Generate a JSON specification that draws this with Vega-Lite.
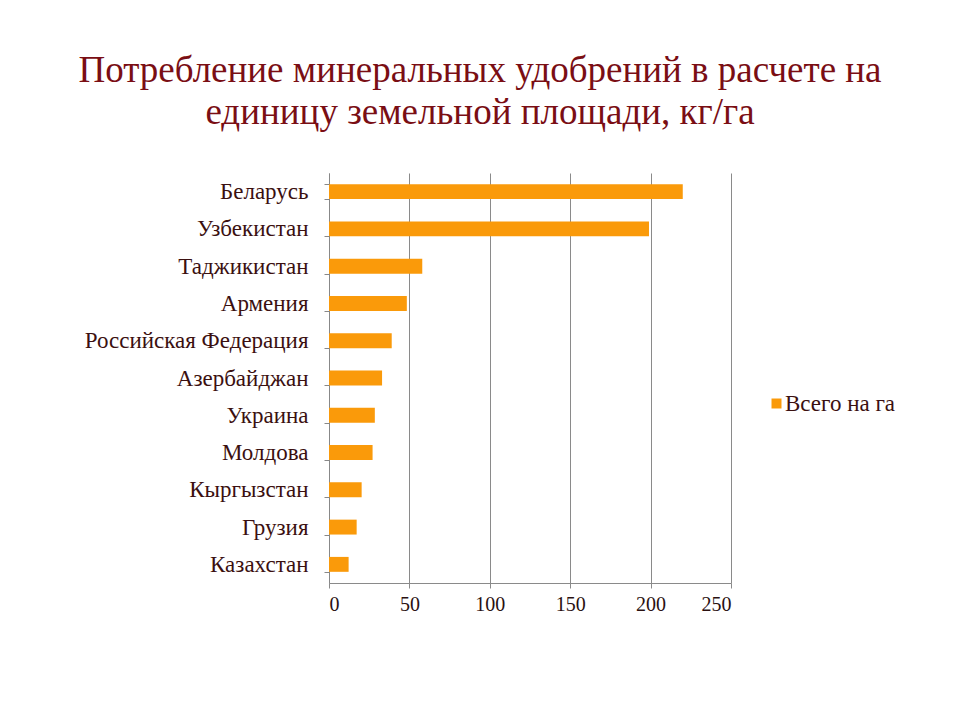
{
  "$schema": "https://vega.github.io/schema/vega-lite/v6.json",
  "autosize": "none",
  "width": 402,
  "height": 410,
  "padding": {"left": 329, "top": 173, "right": 229, "bottom": 137},
  "background": "white",
  "config": {"view": {"stroke": null}, "font": "Liberation Serif"},
  "title": {
    "text": ["Потребление минеральных удобрений в расчете на", "единицу земельной площади, кг/га"],
    "anchor": "middle",
    "frame": "group",
    "dx": -50,
    "offset": 30,
    "font": "Liberation Serif",
    "fontSize": 37,
    "fontWeight": "normal",
    "color": "#7a0e14",
    "lineHeight": 42
  },
  "data": {
    "values": [
      {"country": "Беларусь", "value": 220, "series": "Всего на га"},
      {"country": "Узбекистан", "value": 199, "series": "Всего на га"},
      {"country": "Таджикистан", "value": 58, "series": "Всего на га"},
      {"country": "Армения", "value": 48.4, "series": "Всего на га"},
      {"country": "Российская Федерация", "value": 39, "series": "Всего на га"},
      {"country": "Азербайджан", "value": 33, "series": "Всего на га"},
      {"country": "Украина", "value": 28.5, "series": "Всего на га"},
      {"country": "Молдова", "value": 27.1, "series": "Всего на га"},
      {"country": "Кыргызстан", "value": 20.3, "series": "Всего на га"},
      {"country": "Грузия", "value": 17.2, "series": "Всего на га"},
      {"country": "Казахстан", "value": 12.2, "series": "Всего на га"}
    ]
  },
  "mark": {"type": "bar"},
  "encoding": {
    "y": {
      "field": "country",
      "type": "nominal",
      "sort": null,
      "scale": {"paddingInner": 0.6, "paddingOuter": 0.3},
      "axis": {
        "title": null,
        "ticks": true,
        "tickBand": "extent",
        "tickSize": 5,
        "tickColor": "#888888",
        "domain": true,
        "domainColor": "#888888",
        "labelFont": "Liberation Serif",
        "labelFontSize": 23,
        "labelColor": "#3b1010",
        "labelPadding": 16,
        "labelLimit": 400,
        "grid": false
      }
    },
    "x": {
      "field": "value",
      "type": "quantitative",
      "scale": {"domain": [0, 250], "nice": false},
      "axis": {
        "title": null,
        "values": [0, 50, 100, 150, 200, 250],
        "grid": true,
        "gridColor": "#8a8a8a",
        "gridWidth": 1,
        "domainColor": "#8a8a8a",
        "tickColor": "#8a8a8a",
        "tickSize": 5,
        "labelFont": "Liberation Serif",
        "labelFontSize": 20,
        "labelColor": "#2a1010",
        "labelPadding": 6
      }
    },
    "color": {
      "field": "series",
      "type": "nominal",
      "scale": {"range": ["#FA9A0A"]},
      "legend": {
        "title": null,
        "orient": "none",
        "legendX": 436,
        "legendY": 219,
        "symbolType": "square",
        "symbolSize": 100,
        "labelFont": "Liberation Serif",
        "labelFontSize": 23,
        "labelColor": "#3b1010",
        "labelOffset": -3
      }
    }
  }
}
